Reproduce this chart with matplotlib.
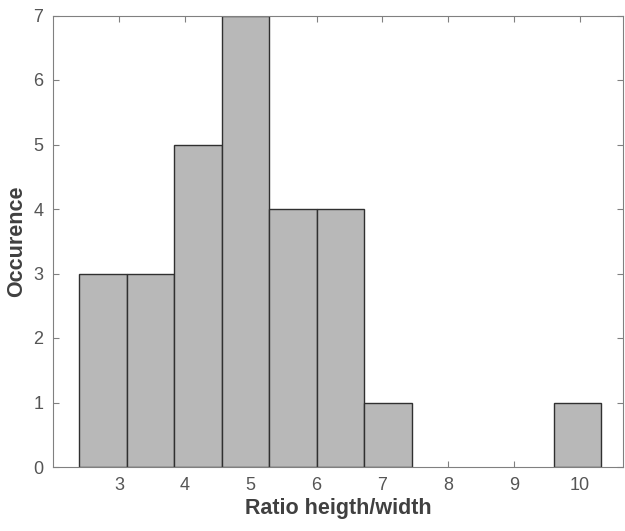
import numpy as np
import matplotlib
matplotlib.use("Agg")
import matplotlib.pyplot as plt

bin_start = 2.397
bin_width = 0.7206
counts = [3, 3, 5, 7, 4, 4, 1, 0, 0, 0, 1]
x_ticks = [3, 4, 5, 6, 7, 8, 9, 10]
y_ticks = [0, 1, 2, 3, 4, 5, 6, 7]
x_label = "Ratio heigth/width"
y_label = "Occurence"

edges = bin_start + bin_width * np.arange(len(counts) + 1)

plt.rcParams['font.family'] = ['Liberation Sans', 'DejaVu Sans']

fig = plt.figure(figsize=(6.25, 5.31), dpi=100)
W, H = 625, 531
ax = fig.add_axes([53 / W, (H - 467) / H, (623 - 53) / W, (467 - 15.5) / H])

cnt = np.array(counts)
mask = cnt > 0
ax.bar(edges[:-1][mask], cnt[mask], width=bin_width, align='edge',
       color='#b8b8b8', edgecolor='#303030', linewidth=1.0, zorder=2)

ax.set_xlim(2.0, 10.65)
ax.set_ylim(0, 7)
ax.set_xticks(x_ticks)
ax.set_yticks(y_ticks)

axcol = '#555555'
for s in ax.spines.values():
    s.set_color('#808080')
    s.set_linewidth(0.8)
    s.set_zorder(3)
ax.tick_params(direction='in', top=True, right=True, length=4, width=0.8,
               color='#808080', labelcolor=axcol, labelsize=13, pad=7)

ax.set_xlabel(x_label, fontsize=15.5, fontweight='bold', color='#404040', labelpad=3)
ax.set_ylabel(y_label, fontsize=15.5, fontweight='bold', color='#404040', labelpad=4)

fig.savefig('out.png', dpi=100)
